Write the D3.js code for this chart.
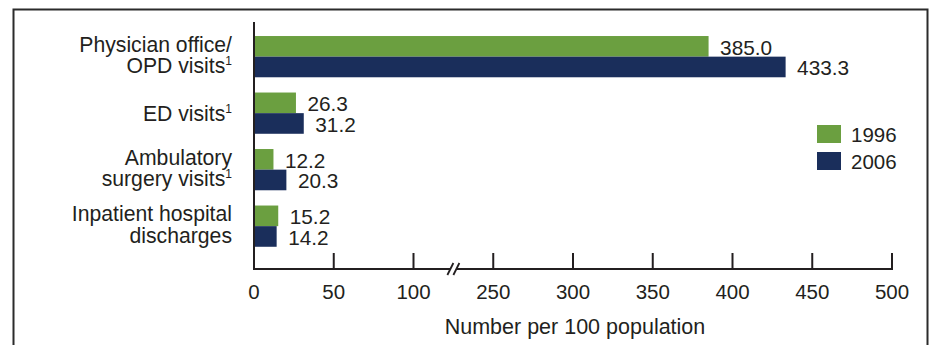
<!DOCTYPE html>
<html>
<head>
<meta charset="utf-8">
<script src="https://cdn.jsdelivr.net/npm/d3@7/dist/d3.min.js"></script>
<style>
  html, body { margin: 0; padding: 0; background: #fff; }
  svg { display: block; }
  text { font-family: "Liberation Sans", Arial, Helvetica, sans-serif; fill: #231f20; }
</style>
</head>
<body>
<svg id="chart" width="933" height="345"></svg>
<script>
// Utilization per 100 population, 1996 vs 2006
const categories = [
  { key: "physician", lines: ["Physician office/", "OPD visits"], note: [false, true] },
  { key: "ed", lines: ["ED visits"], note: [true] },
  { key: "ambulatory", lines: ["Ambulatory", "surgery visits"], note: [false, true] },
  { key: "inpatient", lines: ["Inpatient hospital", "discharges"], note: [false, false] }
];
const years = ["1996", "2006"];
const values1996 = [385.0, 26.3, 12.2, 15.2];
const values2006 = [433.3, 31.2, 20.3, 14.2];
const tickValues = [0, 50, 100, 250, 300, 350, 400, 450, 500];
const axisTitle = "Number per 100 population";

const colors = { "1996": "#6b9f40", "2006": "#1a2e5b" };
const ink = "#231f20";

const svg = d3.select("#chart");

// Outer frame (runs off the bottom edge)
svg.append("rect")
  .attr("x", 13.5).attr("y", 9.5)
  .attr("width", 914).attr("height", 400)
  .attr("fill", "none")
  .attr("stroke", "#2b2b2b")
  .attr("stroke-width", 2);

// Broken value axis: 0–100, gap, 250–500, each 50-unit step the same width
const step = (892 - 254) / 8;
const x = d3.scaleLinear()
  .domain([0, 100, 250, 500])
  .range([254, 254 + 2 * step, 254 + 3 * step, 254 + 8 * step]);

const y = d3.scaleBand()
  .domain(categories.map(d => d.key))
  .range([28.4, 254.4])
  .paddingInner(0.27)
  .paddingOuter(0.135);

const ySub = d3.scaleBand()
  .domain(years)
  .range([0, y.bandwidth()]);

const rows = categories.map((c, i) => ({
  key: c.key,
  vals: [
    { year: "1996", value: values1996[i] },
    { year: "2006", value: values2006[i] }
  ]
}));

const fmt = d3.format(".1f");

// Bars
const g = svg.append("g");
const groups = g.selectAll("g.cat")
  .data(rows)
  .join("g")
  .attr("class", "cat")
  .attr("transform", d => `translate(0,${y(d.key)})`);

groups.selectAll("rect")
  .data(d => d.vals)
  .join("rect")
  .attr("x", x(0))
  .attr("y", d => ySub(d.year))
  .attr("width", d => x(d.value) - x(0))
  .attr("height", ySub.bandwidth())
  .attr("fill", d => colors[d.year]);

groups.selectAll("text.val")
  .data(d => d.vals)
  .join("text")
  .attr("class", "val")
  .attr("x", d => x(d.value) + 11.5)
  .attr("y", d => ySub(d.year) + ySub.bandwidth() / 2 + 8.5)
  .attr("font-size", 20.8)
  .text(d => fmt(d.value));

// Category labels
const labels = svg.append("g");
categories.forEach(c => {
  const cy = y(c.key) + y.bandwidth() / 2;
  const baselines = c.lines.length === 1 ? [cy + 7.5] : [cy - 5, cy + 16.5];
  c.lines.forEach((line, j) => {
    const t = labels.append("text")
      .attr("x", 232)
      .attr("y", baselines[j])
      .attr("text-anchor", "end")
      .attr("font-size", 21.2);
    t.append("tspan").text(line);
    if (c.note[j]) {
      t.append("tspan").attr("font-size", 12).attr("dy", -8).text("1");
    }
  });
});

// Axes
const axisY = 269;
svg.append("line")
  .attr("x1", x(0)).attr("x2", x(0))
  .attr("y1", 22).attr("y2", axisY + 1)
  .attr("stroke", ink).attr("stroke-width", 2);

svg.append("line")
  .attr("x1", x(0) - 1).attr("x2", x(500) + 1)
  .attr("y1", axisY).attr("y2", axisY)
  .attr("stroke", ink).attr("stroke-width", 2);

svg.append("g").selectAll("line")
  .data(tickValues.filter(v => v > 0))
  .join("line")
  .attr("x1", d => x(d)).attr("x2", d => x(d))
  .attr("y1", axisY - 16).attr("y2", axisY)
  .attr("stroke", ink).attr("stroke-width", 2);

svg.append("g").selectAll("text")
  .data(tickValues)
  .join("text")
  .attr("x", d => x(d))
  .attr("y", axisY + 29.5)
  .attr("text-anchor", "middle")
  .attr("font-size", 20.5)
  .text(d => d);

// Break marker between 100 and 250
const bx = (x(100) + x(250)) / 2;
svg.append("rect")
  .attr("x", bx - 3).attr("y", axisY - 3)
  .attr("width", 6).attr("height", 6)
  .attr("fill", "#fff");
[-3, 3].forEach(off => {
  svg.append("line")
    .attr("x1", bx + off - 3).attr("y1", axisY + 6)
    .attr("x2", bx + off + 3).attr("y2", axisY - 6)
    .attr("stroke", ink).attr("stroke-width", 1.8);
});

svg.append("text")
  .attr("x", (x(0) + x(500)) / 2 + 2)
  .attr("y", 334)
  .attr("text-anchor", "middle")
  .attr("font-size", 21.5)
  .text(axisTitle);

// Legend
const legend = svg.append("g");
years.forEach((yr, i) => {
  legend.append("rect")
    .attr("x", 817).attr("y", 125 + i * 27)
    .attr("width", 24).attr("height", 18)
    .attr("fill", colors[yr]);
  legend.append("text")
    .attr("x", 851).attr("y", 141.5 + i * 27)
    .attr("font-size", 20.5)
    .text(yr);
});
</script>
</body>
</html>
